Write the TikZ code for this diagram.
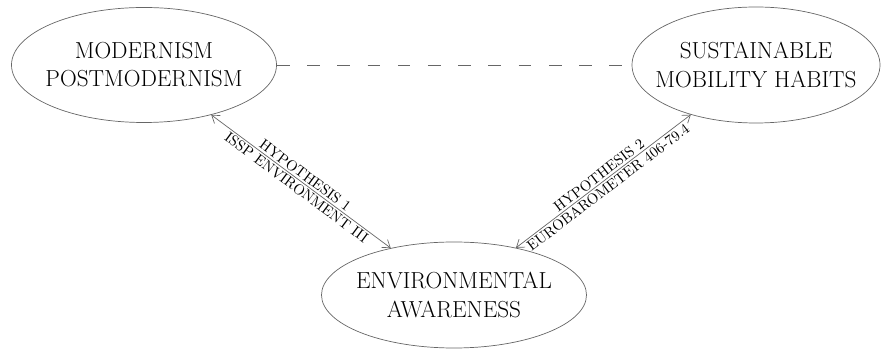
\documentclass[tikz,border=0pt]{standalone}
\usepackage{tikz}
\usetikzlibrary{arrows.meta,shapes.geometric}

\begin{document}
\begin{tikzpicture}[
    oval/.style={draw=black!60, ellipse, line width=0.5pt, inner sep=0pt},
    big/.style={font=\fontsize{16.5}{20}\selectfont, align=center, inner sep=0pt},
    arr/.style={{Straight Barb[length=5pt,width=7pt]}-{Straight Barb[length=5pt,width=7pt]}, draw=black!60, line width=0.5pt},
    lbl/.style={font=\fontsize{10.5}{12}\selectfont, sloped, inner sep=1.2pt},
    dashline/.style={draw=black!60, line width=0.5pt, dash pattern=on 9pt off 12.5pt}
]
\useasboundingbox (0,0) rectangle (22.025,8.75);

% the three concepts
\node[oval, minimum width=6.625cm, minimum height=2.875cm,
      label={[big]center:MODERNISM\\POSTMODERNISM}] (mod) at (3.6,7.125) {};
\node[oval, minimum width=6.2cm, minimum height=2.9cm,
      label={[big]center:SUSTAINABLE\\MOBILITY HABITS}] (sus) at (18.9,7.125) {};
\node[oval, minimum width=6.625cm, minimum height=2.65cm,
      label={[big]center:ENVIRONMENTAL\\AWARENESS}] (env) at (11.35,1.375) {};

% hypotheses
\draw[arr] (mod) -- node[lbl, above] {HYPOTHESIS 1} node[lbl, below] {ISSP ENVIRONMENT III} (env);
\draw[arr] (env) -- node[lbl, above] {HYPOTHESIS 2} node[lbl, below] {EUROBAROMETER 406-79.4} (sus);
\draw[dashline] (mod) -- (sus);
\end{tikzpicture}
\end{document}
